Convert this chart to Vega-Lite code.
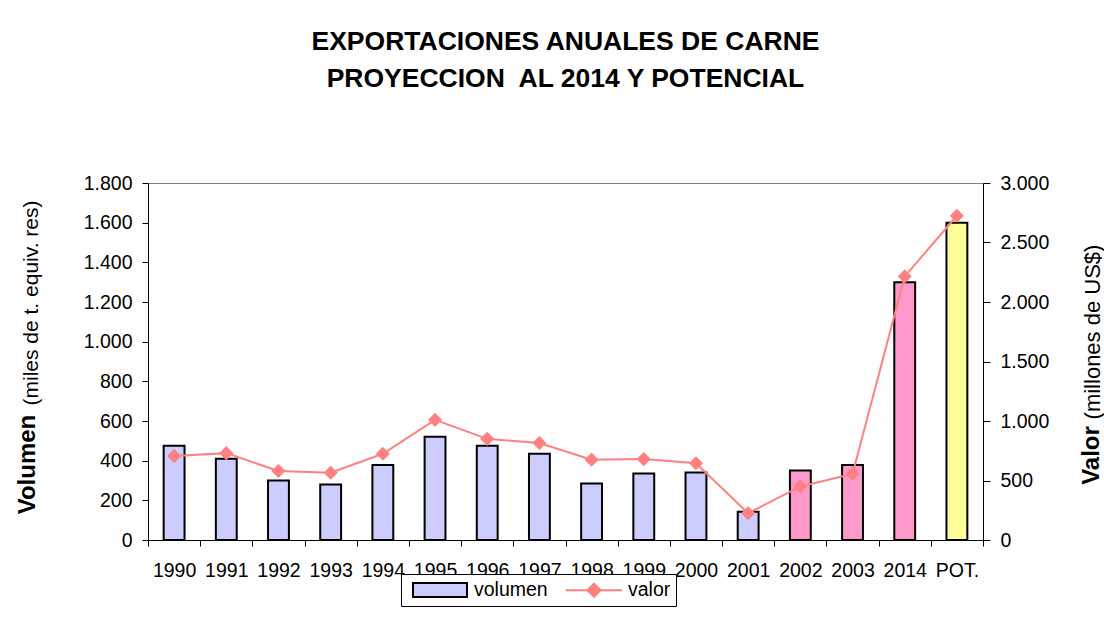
{
  "$schema": "https://vega.github.io/schema/vega-lite/v6.json",
  "width": 835,
  "height": 357,
  "autosize": {"type": "none"},
  "padding": {"left": 148, "top": 183, "right": 121, "bottom": 77},
  "background": "white",
  "title": {
    "text": ["EXPORTACIONES ANUALES DE CARNE", "PROYECCION\u00a0 AL 2014 Y POTENCIAL"],
    "fontSize": 26.5,
    "fontWeight": "bold",
    "font": "Liberation Sans",
    "color": "black",
    "lineHeight": 37,
    "offset": 81,
    "anchor": "middle"
  },
  "data": {
    "values": [
      {"anio": "1990", "volumen": 475, "valor": 705, "grupo": "hist"},
      {"anio": "1991", "volumen": 410, "valor": 730, "grupo": "hist"},
      {"anio": "1992", "volumen": 300, "valor": 580, "grupo": "hist"},
      {"anio": "1993", "volumen": 280, "valor": 565, "grupo": "hist"},
      {"anio": "1994", "volumen": 378, "valor": 725, "grupo": "hist"},
      {"anio": "1995", "volumen": 520, "valor": 1010, "grupo": "hist"},
      {"anio": "1996", "volumen": 475, "valor": 850, "grupo": "hist"},
      {"anio": "1997", "volumen": 435, "valor": 815, "grupo": "hist"},
      {"anio": "1998", "volumen": 285, "valor": 675, "grupo": "hist"},
      {"anio": "1999", "volumen": 335, "valor": 680, "grupo": "hist"},
      {"anio": "2000", "volumen": 340, "valor": 645, "grupo": "hist"},
      {"anio": "2001", "volumen": 143, "valor": 225, "grupo": "hist"},
      {"anio": "2002", "volumen": 350, "valor": 450, "grupo": "proy"},
      {"anio": "2003", "volumen": 378, "valor": 555, "grupo": "proy"},
      {"anio": "2014", "volumen": 1300, "valor": 2215, "grupo": "proy"},
      {"anio": "POT.", "volumen": 1600, "valor": 2725, "grupo": "pot"}
    ]
  },
  "encoding": {
    "x": {
      "field": "anio",
      "type": "nominal",
      "sort": null,
      "scale": {"paddingInner": 0, "paddingOuter": 0},
      "axis": {
        "title": null,
        "labelAngle": 0,
        "tickBand": "extent",
        "tickSize": 6,
        "labelPadding": 15,
        "labelFontSize": 19.5,
        "labelColor": "black",
        "domainColor": "black",
        "tickColor": "black"
      }
    }
  },
  "layer": [
    {
      "mark": {"type": "bar", "strokeWidth": 2, "stroke": "black", "width": {"band": 0.4}},
      "encoding": {
        "y": {
          "field": "volumen",
          "type": "quantitative",
          "scale": {"domain": [0, 1800], "nice": false},
          "axis": {
            "orient": "left",
            "values": [0, 200, 400, 600, 800, 1000, 1200, 1400, 1600, 1800],
            "format": ",d",
            "tickSize": 6,
            "labelPadding": 10,
            "labelFontSize": 19.5,
            "grid": false,
            "title": "Volumen",
            "titleFontSize": 24,
            "titleFontWeight": "bold",
            "titleAngle": 270,
            "titleBaseline": "alphabetic",
            "titleAlign": "center",
            "titleX": -114,
            "titleY": 281
          }
        },
        "fill": {
          "field": "grupo",
          "type": "nominal",
          "scale": {"domain": ["hist", "proy", "pot"], "range": ["#CCCCFF", "#FF99CC", "#FFFF99"]},
          "legend": null
        }
      }
    },
    {
      "mark": {"type": "line", "strokeWidth": 2, "stroke": "#FF8080"},
      "encoding": {
        "y": {
          "field": "valor",
          "type": "quantitative",
          "scale": {"domain": [0, 3000], "nice": false},
          "axis": {
            "orient": "right",
            "values": [0, 500, 1000, 1500, 2000, 2500, 3000],
            "format": ",d",
            "tickSize": 7,
            "labelPadding": 10,
            "labelFontSize": 19.5,
            "grid": false,
            "title": "Valor",
            "titleFontSize": 24,
            "titleFontWeight": "bold",
            "titleAngle": 270,
            "titleBaseline": "alphabetic",
            "titleAlign": "center",
            "titleX": 115,
            "titleY": 272
          }
        }
      }
    },
    {
      "mark": {"type": "point", "shape": "diamond", "filled": true, "color": "#FF8080", "size": 200, "opacity": 1},
      "encoding": {
        "y": {
          "field": "valor",
          "type": "quantitative",
          "scale": {"domain": [0, 3000], "nice": false},
          "axis": {
            "orient": "right",
            "labels": false,
            "ticks": false,
            "domain": false,
            "grid": false,
            "title": "(millones de US$)",
            "titleFontSize": 22,
            "titleFontWeight": "normal",
            "titleAngle": 270,
            "titleBaseline": "alphabetic",
            "titleAlign": "center",
            "titleX": 116,
            "titleY": 148.5
          }
        }
      }
    },
    {
      "mark": {"type": "point", "opacity": 0},
      "encoding": {
        "y": {
          "field": "volumen",
          "type": "quantitative",
          "scale": {"domain": [0, 1800], "nice": false},
          "axis": {
            "orient": "left",
            "labels": false,
            "ticks": false,
            "domain": false,
            "grid": false,
            "title": "(miles de t. equiv. res)",
            "titleFontSize": 21,
            "titleFontWeight": "normal",
            "titleAngle": 270,
            "titleBaseline": "alphabetic",
            "titleAlign": "center",
            "titleX": -111,
            "titleY": 119.5
          }
        }
      }
    },
    {
      "transform": [{"fold": ["volumen", "valor"], "as": ["serie", "v"]}],
      "mark": {"type": "point", "filled": true, "opacity": 0},
      "encoding": {
        "color": {
          "field": "serie",
          "type": "nominal",
          "scale": {"domain": ["volumen", "valor"], "range": ["#CCCCFF", "#FF8080"]},
          "legend": {
            "orient": "none", "legendX": 253, "legendY": 391, "direction": "horizontal", "title": null,
            "strokeColor": "black", "fillColor": "white", "padding": 5,
            "labelFontSize": 19.5, "labelColor": "black", "labelOffset": 23, "symbolOffset": 23, "columnPadding": 12,
            "symbolSize": 400, "symbolStrokeWidth": 2, "symbolOpacity": 1
          }
        },
        "stroke": {
          "field": "serie",
          "type": "nominal",
          "scale": {"domain": ["volumen", "valor"], "range": ["black", "#FF8080"]},
          "legend": {
            "orient": "none", "legendX": 253, "legendY": 391, "direction": "horizontal", "title": null,
            "strokeColor": "black", "fillColor": "white", "padding": 5,
            "labelFontSize": 19.5, "labelColor": "black", "labelOffset": 23, "symbolOffset": 23, "columnPadding": 12,
            "symbolSize": 400, "symbolStrokeWidth": 2, "symbolOpacity": 1
          }
        },
        "shape": {
          "field": "serie",
          "type": "nominal",
          "scale": {"domain": ["volumen", "valor"], "range": ["M-2.7,-0.7H2.7V0.7H-2.7Z", "M-2.8,0H2.8M0,-0.65L0.65,0L0,0.65L-0.65,0Z"]},
          "legend": {
            "orient": "none", "legendX": 253, "legendY": 391, "direction": "horizontal", "title": null,
            "strokeColor": "black", "fillColor": "white", "padding": 5,
            "labelFontSize": 19.5, "labelColor": "black", "labelOffset": 23, "symbolOffset": 23, "columnPadding": 12,
            "symbolSize": 400, "symbolStrokeWidth": 2, "symbolOpacity": 1
          }
        }
      }
    }
  ],
  "resolve": {"scale": {"y": "independent"}, "axis": {"y": "independent"}},
  "config": {
    "font": "Liberation Sans",
    "locale": {"number": {"decimal": ",", "thousands": ".", "grouping": [3], "currency": ["$", ""]}},
    "axis": {
      "labelFont": "Liberation Sans",
      "titleFont": "Liberation Sans",
      "labelColor": "black",
      "titleColor": "black",
      "domainColor": "black",
      "tickColor": "black",
      "domainWidth": 1,
      "tickWidth": 1
    },
    "legend": {"labelFont": "Liberation Sans"},
    "view": {"stroke": "#808080"}
  }
}
